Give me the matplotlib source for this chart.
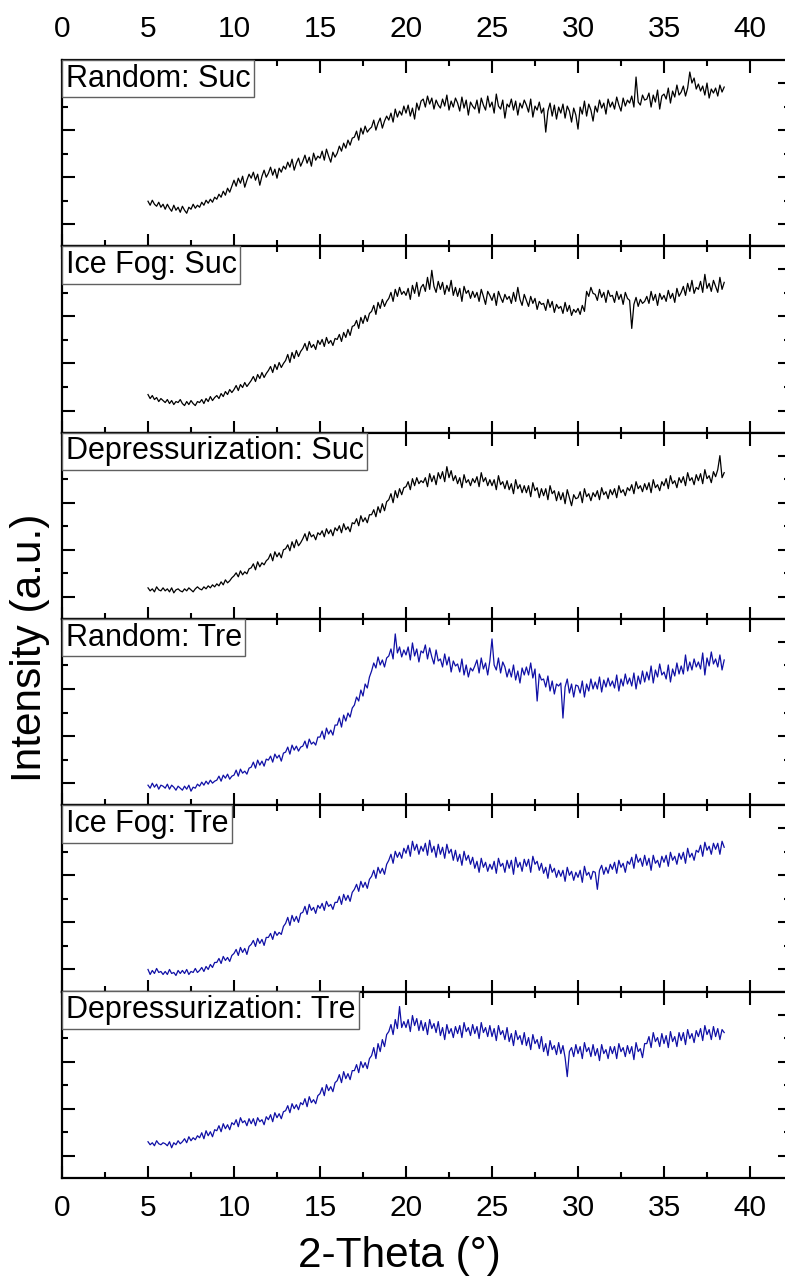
import numpy as np
import matplotlib
matplotlib.use('Agg')
import matplotlib.pyplot as plt
from matplotlib.offsetbox import AnchoredText
from matplotlib.ticker import MultipleLocator, FixedLocator

plt.rcParams['font.family'] = ['Liberation Sans', 'DejaVu Sans']

# 2-theta sampling (deg), 0.125 deg step from 5 to 38.5
theta = np.arange(5, 38.501, 0.125)

# intensities (a.u.), 8 points per degree (one row per degree)
random_suc = [
    45, 41, 46, 42, 40, 44, 39, 42,
    37, 42, 38, 35, 41, 36, 39, 34,
    40, 36, 33, 39, 37, 42, 38, 41,
    39, 44, 41, 46, 43, 47, 44, 49,
    47, 52, 49, 55, 51, 58, 54, 60,
    66, 60, 68, 63, 70, 59, 66, 72,
    68, 74, 66, 72, 61, 70, 76, 69,
    73, 79, 71, 77, 68, 78, 74, 80,
    77, 84, 79, 87, 76, 83, 88, 80,
    85, 91, 83, 89, 80, 93, 86, 90,
    88, 95, 86, 97, 90, 84, 94, 89,
    93, 100, 95, 103, 98, 106, 101, 108,
    109, 115, 106, 118, 112, 120, 114, 117,
    119, 126, 116, 123, 128, 118, 125, 130,
    126, 133, 124, 137, 129, 135, 131, 140,
    133, 141, 130, 138, 127, 143, 136, 145,
    147, 139, 150, 142, 148, 137, 146, 141,
    138, 147, 140, 151, 136, 145, 139, 148,
    143, 135, 149, 138, 146, 131, 144, 140,
    137, 146, 133, 148, 141, 136, 150, 139,
    144, 133, 152, 140, 137, 146, 128, 142,
    139, 147, 136, 145, 131, 143, 138, 146,
    141, 134, 147, 129, 140, 136, 144, 133,
    138, 114, 135, 143, 130, 141, 127, 139,
    133, 142, 128, 140, 135, 124, 138, 131,
    117, 139, 132, 145, 130, 142, 136, 125,
    140, 134, 146, 138, 143, 132, 147, 139,
    144, 137, 149, 141, 135, 148, 140, 146,
    143, 150, 139, 169, 144, 141, 151, 146,
    147, 153, 139, 151, 144, 156, 137, 150,
    152, 147, 158, 143, 155, 149, 161, 151,
    154, 160, 150, 158, 174, 163, 168, 157,
    162, 155, 160, 151, 163, 148, 157, 153,
    158, 150, 161, 154, 159]
icefog_suc = [
    38, 34, 37, 33, 35, 31, 34, 32,
    30, 33, 29, 32, 28, 31, 30, 33,
    29, 27, 31, 28, 32, 29, 27, 31,
    30, 33, 29, 34, 31, 36, 32, 35,
    37, 34, 39, 36, 41, 38, 43, 40,
    43, 47, 42, 48, 45, 50, 46, 49,
    52, 56, 51, 58, 54, 60, 55, 59,
    62, 66, 60, 68, 63, 70, 65, 69,
    72, 78, 70, 80, 74, 82, 76, 81,
    84, 89, 82, 91, 85, 88, 83, 92,
    88, 93, 86, 95, 89, 92, 87, 94,
    93, 98, 91, 100, 95, 103, 97, 106,
    107, 112, 104, 115, 109, 117, 111, 119,
    121, 127, 118, 130, 124, 133, 126, 131,
    134, 140, 131, 143, 136, 145, 138, 141,
    137, 144, 133, 147, 139, 150, 136, 145,
    148, 141, 155, 143, 162, 146, 140, 151,
    143, 150, 138, 147, 141, 152, 137, 145,
    136, 144, 131, 146, 139, 142, 134, 141,
    135, 140, 131, 143, 136, 128, 141, 137,
    132, 139, 127, 141, 135, 130, 138, 133,
    136, 129, 140, 131, 145, 133, 127, 138,
    132, 126, 136, 129, 134, 123, 131, 128,
    129, 122, 133, 125, 131, 120, 128, 124,
    126, 119, 130, 121, 127, 117, 123, 120,
    124, 118, 127, 121, 141, 136, 145, 139,
    138, 132, 143, 135, 140, 130, 142, 136,
    137, 130, 141, 133, 138, 128, 140, 134,
    132, 104, 128, 135, 126, 133, 129, 131,
    136, 129, 141, 132, 138, 127, 139, 133,
    137, 131, 142, 134, 139, 130, 144, 136,
    140, 146, 137, 149, 141, 152, 139, 145,
    143, 151, 140, 158, 144, 149, 141, 152,
    146, 140, 155, 143, 150]
depress_suc = [
    31, 28, 30, 27, 32, 29, 28, 31,
    28, 30, 27, 31, 26, 29, 30, 28,
    27, 30, 28, 31, 29, 27, 30, 32,
    30, 29, 32, 30, 33, 31, 34, 32,
    35, 33, 37, 34, 39, 36, 38, 41,
    43, 46, 42, 48, 44, 47, 45, 50,
    51, 55, 49, 57, 52, 56, 54, 58,
    60, 65, 58, 67, 62, 66, 61, 69,
    70, 74, 68, 77, 71, 79, 73, 76,
    80, 85, 78, 87, 82, 84, 79, 86,
    84, 88, 82, 90, 85, 89, 83, 91,
    88, 93, 86, 95, 89, 92, 87, 96,
    95, 100, 93, 103, 97, 101, 96, 104,
    104, 109, 102, 112, 106, 115, 108, 117,
    119, 125, 116, 128, 121, 130, 124, 131,
    132, 137, 129, 140, 133, 141, 135, 138,
    136, 141, 132, 145, 137, 143, 134, 146,
    140, 147, 137, 152, 141, 148, 138, 143,
    135, 141, 131, 144, 136, 139, 133, 140,
    136, 142, 132, 146, 137, 141, 133, 139,
    133, 139, 129, 143, 134, 137, 130, 138,
    129, 135, 125, 139, 130, 134, 126, 133,
    126, 133, 122, 136, 128, 131, 121, 130,
    123, 130, 119, 133, 125, 128, 118, 127,
    119, 126, 115, 129, 121, 113, 124, 120,
    121, 127, 116, 130, 122, 125, 118, 126,
    122, 128, 119, 131, 124, 127, 120, 129,
    124, 130, 121, 133, 126, 129, 123, 131,
    128, 134, 125, 137, 130, 133, 127, 135,
    129, 136, 126, 139, 131, 134, 128, 137,
    133, 140, 130, 143, 135, 138, 131, 141,
    136, 142, 133, 146, 138, 141, 134, 144,
    138, 145, 135, 149, 140, 143, 136, 147,
    142, 149, 163, 141, 146]
random_tre = [
    20, 17, 22, 18, 21, 16, 20, 19,
    17, 21, 16, 20, 18, 15, 19, 17,
    15, 19, 16, 20, 14, 18, 17, 21,
    19, 23, 20, 24, 21, 25, 22, 24,
    25, 29, 24, 30, 27, 31, 26, 29,
    30, 35, 29, 36, 32, 34, 31, 37,
    38, 43, 37, 45, 40, 44, 39, 46,
    45, 49, 43, 51, 47, 50, 44, 52,
    53, 58, 51, 60, 55, 59, 54, 58,
    59, 64, 57, 66, 61, 63, 60, 68,
    68, 74, 66, 77, 71, 75, 70, 80,
    80, 87, 78, 90, 84, 92, 88, 97,
    100, 108, 104, 115, 109, 121, 117, 128,
    134, 142, 137, 148, 140, 145, 138, 147,
    149, 156, 146, 171, 152, 158, 148, 155,
    150, 158, 145, 162, 149, 156, 143, 154,
    152, 160, 146, 157, 148, 141, 155, 144,
    146, 138, 151, 140, 148, 133, 144, 139,
    141, 133, 146, 130, 140, 128, 137, 134,
    139, 145, 132, 147, 136, 142, 130, 144,
    166, 140, 135, 147, 132, 143, 138, 128,
    136, 128, 140, 125, 134, 122, 137, 130,
    138, 130, 142, 127, 136, 104, 131, 125,
    126, 118, 129, 114, 124, 111, 121, 119,
    122, 87, 118, 126, 112, 121, 108, 120,
    119, 112, 124, 108, 121, 114, 126, 116,
    123, 116, 128, 113, 125, 118, 127, 119,
    124, 117, 130, 114, 126, 119, 131, 121,
    127, 119, 132, 116, 129, 121, 134, 123,
    133, 125, 139, 122, 135, 128, 141, 130,
    133, 126, 140, 123, 136, 129, 142, 131,
    139, 131, 150, 134, 143, 135, 146, 138,
    143, 136, 152, 130, 147, 139, 153, 141,
    146, 138, 150, 135, 145]
icefog_tre = [
    22, 17, 21, 18, 23, 19, 20, 17,
    20, 17, 22, 18, 19, 16, 21, 18,
    21, 18, 22, 17, 20, 19, 23, 19,
    21, 24, 20, 25, 22, 27, 24, 29,
    29, 33, 28, 35, 31, 34, 30, 36,
    38, 42, 36, 44, 39, 43, 37, 45,
    47, 51, 45, 53, 48, 52, 46, 54,
    54, 58, 52, 60, 56, 59, 57, 65,
    68, 74, 66, 76, 70, 75, 69, 78,
    79, 85, 77, 87, 81, 84, 78, 86,
    83, 88, 81, 90, 85, 87, 82, 89,
    89, 95, 87, 97, 91, 96, 90, 99,
    102, 107, 100, 110, 104, 109, 103, 112,
    115, 121, 113, 124, 118, 123, 117, 127,
    131, 137, 128, 140, 134, 139, 133, 143,
    138, 146, 135, 150, 141, 147, 137, 145,
    140, 148, 136, 151, 139, 145, 134, 147,
    137, 144, 133, 147, 138, 142, 131, 141,
    130, 137, 126, 140, 131, 136, 127, 134,
    123, 130, 119, 133, 124, 129, 120, 127,
    122, 130, 118, 133, 125, 128, 119, 131,
    123, 131, 117, 134, 124, 129, 120, 132,
    125, 132, 119, 135, 127, 130, 121, 128,
    118, 124, 113, 127, 119, 123, 114, 121,
    115, 121, 110, 124, 116, 120, 111, 119,
    114, 121, 109, 125, 116, 119, 112, 120,
    119, 102, 121, 126, 117, 124, 118, 127,
    122, 129, 118, 131, 124, 128, 119, 130,
    127, 134, 123, 137, 129, 133, 125, 136,
    126, 133, 121, 136, 128, 131, 124, 135,
    129, 136, 125, 139, 131, 135, 127, 138,
    132, 139, 128, 143, 134, 138, 131, 141,
    139, 146, 135, 149, 141, 145, 137, 148,
    142, 148, 137, 150, 144]
depress_tre = [
    36, 33, 35, 32, 37, 34, 33, 35,
    34, 32, 36, 30, 35, 33, 37, 34,
    36, 39, 35, 41, 37, 40, 38, 42,
    40, 45, 39, 47, 42, 46, 41, 48,
    47, 52, 46, 54, 49, 53, 48, 55,
    53, 58, 51, 60, 55, 57, 52, 59,
    54, 59, 52, 60, 56, 58, 53, 61,
    58, 63, 56, 65, 60, 64, 59, 66,
    67, 72, 65, 74, 69, 73, 68, 75,
    73, 79, 71, 81, 75, 78, 74, 82,
    84, 90, 82, 93, 87, 91, 86, 95,
    97, 103, 95, 106, 99, 104, 98, 107,
    107, 113, 105, 116, 110, 115, 109, 119,
    122, 130, 119, 134, 126, 138, 131, 143,
    146, 153, 143, 158, 149, 171, 150, 156,
    150, 158, 146, 162, 152, 159, 147, 157,
    147, 155, 143, 158, 149, 154, 145, 156,
    142, 150, 138, 153, 144, 149, 140, 151,
    144, 152, 140, 155, 146, 150, 142, 153,
    144, 151, 139, 155, 145, 150, 141, 152,
    141, 149, 137, 152, 143, 147, 138, 150,
    136, 144, 132, 147, 138, 142, 133, 145,
    132, 140, 128, 143, 134, 138, 129, 141,
    126, 134, 122, 137, 128, 132, 123, 135,
    124, 132, 120, 101, 126, 130, 121, 133,
    124, 131, 119, 135, 126, 130, 121, 133,
    122, 129, 117, 133, 124, 128, 119, 131,
    124, 131, 119, 134, 126, 130, 121, 132,
    124, 131, 118, 135, 126, 129, 120, 134,
    134, 141, 130, 145, 136, 140, 131, 144,
    134, 142, 130, 146, 136, 141, 131, 145,
    137, 145, 133, 148, 139, 144, 135, 147,
    141, 149, 137, 152, 143, 148, 138, 151,
    141, 149, 138, 148, 145]

labels = ['Random: Suc', 'Ice Fog: Suc', 'Depressurization: Suc',
          'Random: Tre', 'Ice Fog: Tre', 'Depressurization: Tre']
series = [random_suc, icefog_suc, depress_suc, random_tre, icefog_tre, depress_tre]
colors = ['black', 'black', 'black', '#1010a6', '#1010a6', '#1010a6']

W, H = 785, 1281
fig = plt.figure(figsize=(W / 100, H / 100), dpi=100)

left = 62          # px of x = 0
px_deg = 17.2      # px per degree
xmax = 42.3
top = 60
ph = 186.3         # panel height px

for i, (lab, y, c) in enumerate(zip(labels, series, colors)):
    y0 = top + i * ph
    ax = fig.add_axes([left / W, 1 - (y0 + ph) / H, xmax * px_deg / W, ph / H])
    ax.plot(theta, y, color=c, lw=0.9)
    ax.set_xlim(0, xmax)
    ax.set_ylim(0, 186)
    ax.xaxis.set_major_locator(MultipleLocator(5))
    ax.xaxis.set_minor_locator(MultipleLocator(2.5))
    ax.yaxis.set_major_locator(FixedLocator([22, 69, 116, 163]))
    ax.yaxis.set_minor_locator(FixedLocator([45.5, 92.5, 139.5]))
    ax.tick_params(which='both', direction='in', top=True, right=True,
                   labelleft=False, labelbottom=(i == 5), labeltop=(i == 0),
                   width=1.5, labelsize=21.5)
    ax.tick_params(which='major', length=9, pad=12)
    ax.tick_params(which='minor', length=4.5)
    for s in ax.spines.values():
        s.set_linewidth(1.6)
    at = AnchoredText(lab, loc='upper left', prop=dict(size=22),
                      frameon=True, pad=0.12, borderpad=0)
    at.patch.set_edgecolor('#606060')
    at.patch.set_linewidth(1.0)
    at.set_zorder(5)
    ax.add_artist(at)

fig.text(399 / W, 1 - 1256 / H, '2-Theta (°)', ha='center', va='center', size=30.5)
fig.text(30 / W, 1 - 648 / H, 'Intensity (a.u.)', ha='center', va='center',
         rotation=90, size=30.5)

fig.savefig('out.png', dpi=100)
